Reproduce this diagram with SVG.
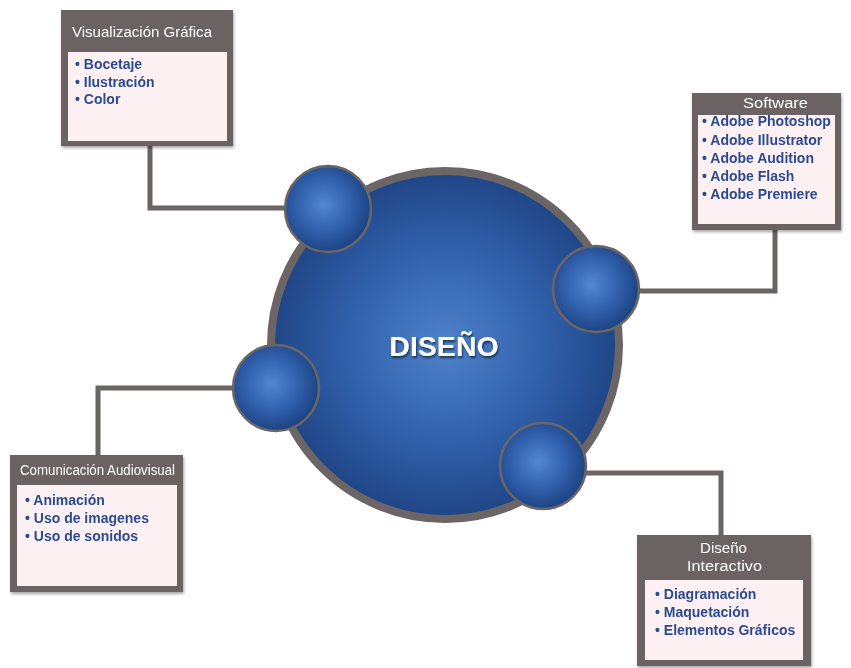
<svg xmlns="http://www.w3.org/2000/svg" width="851" height="668" viewBox="0 0 851 668">
<defs>
<radialGradient id="gMain" cx="50%" cy="50%" r="50%">
<stop offset="0" stop-color="#4f82cc"/>
<stop offset="0.6" stop-color="#2f5ea8"/>
<stop offset="1" stop-color="#1f4585"/>
</radialGradient>
<radialGradient id="gSmall" cx="45%" cy="45%" r="55%">
<stop offset="0" stop-color="#5486d2"/>
<stop offset="0.6" stop-color="#2f5eaa"/>
<stop offset="1" stop-color="#1d4482"/>
</radialGradient>
<filter id="sh" x="-10%" y="-10%" width="130%" height="130%">
<feGaussianBlur in="SourceAlpha" stdDeviation="1.5"/>
<feOffset dx="1" dy="1.5" result="b"/>
<feComponentTransfer><feFuncA type="linear" slope="0.35"/></feComponentTransfer>
<feMerge><feMergeNode/><feMergeNode in="SourceGraphic"/></feMerge>
</filter>
<filter id="tsh" x="-10%" y="-20%" width="130%" height="150%">
<feGaussianBlur in="SourceAlpha" stdDeviation="1"/>
<feOffset dx="1" dy="1.5" result="b"/>
<feComponentTransfer><feFuncA type="linear" slope="0.6"/></feComponentTransfer>
<feMerge><feMergeNode/><feMergeNode in="SourceGraphic"/></feMerge>
</filter>
</defs>
<style>
.frame{fill:#6a6263}
.inner{fill:#fdf0f2}
.title{fill:#ffffff;font-family:"Liberation Sans",Arial,sans-serif;font-size:14px}
.item{fill:#2c4b8f;font-family:"Liberation Sans",Arial,sans-serif;font-size:14px;font-weight:bold}
.conn{fill:none;stroke:#6b6465;stroke-width:5;stroke-linejoin:miter}
.small{fill:url(#gSmall);stroke:#6b6566;stroke-width:2.5}
</style>
<rect width="851" height="668" fill="#ffffff"/>
<g id="connectors">
<polyline class="conn" points="150,146 150,208 290,208"/>
<polyline class="conn" points="775,230 775,291 630,291"/>
<polyline class="conn" points="98,455 98,388 240,388"/>
<polyline class="conn" points="721,535 721,473 580,473"/>
</g>
<g id="diseno">
<circle cx="445" cy="345" r="174" fill="url(#gMain)" stroke="#6b6566" stroke-width="8"/>
<text x="444" y="356" text-anchor="middle" fill="#ffffff" font-family="'Liberation Sans',Arial,sans-serif" font-weight="bold" font-size="28.5" filter="url(#tsh)">DISEÑO</text>
</g>
<g id="circle-tl"><circle class="small" cx="328" cy="209" r="43"/></g>
<g id="circle-r"><circle class="small" cx="596" cy="289" r="43"/></g>
<g id="circle-l"><circle class="small" cx="276" cy="388" r="43"/></g>
<g id="circle-br"><circle class="small" cx="543" cy="466" r="43"/></g>
<g id="box-visualizacion" filter="url(#sh)">
<rect class="frame" x="61" y="10" width="172" height="136"/>
<rect class="inner" x="68" y="52" width="159" height="89"/>
<text class="title" x="72" y="37" textLength="140" lengthAdjust="spacingAndGlyphs">Visualización Gráfica</text>
<text class="item" x="75" y="69">• Bocetaje</text>
<text class="item" x="75" y="87">• Ilustración</text>
<text class="item" x="75" y="104">• Color</text>
</g>
<g id="box-software" filter="url(#sh)">
<rect class="frame" x="692" y="93" width="149" height="137"/>
<rect class="inner" x="698" y="115" width="137" height="109"/>
<text class="title" x="743" y="108" textLength="65" lengthAdjust="spacingAndGlyphs">Software</text>
<text class="item" x="702" y="126">• Adobe Photoshop</text>
<text class="item" x="702" y="145">• Adobe Illustrator</text>
<text class="item" x="702" y="163">• Adobe Audition</text>
<text class="item" x="702" y="181">• Adobe Flash</text>
<text class="item" x="702" y="199">• Adobe Premiere</text>
</g>
<g id="box-comunicacion" filter="url(#sh)">
<rect class="frame" x="10" y="455" width="173" height="137"/>
<rect class="inner" x="17" y="485" width="160" height="101"/>
<text class="title" x="20" y="475" textLength="155" lengthAdjust="spacingAndGlyphs" font-size="13">Comunicación Audiovisual</text>
<text class="item" x="25" y="505">• Animación</text>
<text class="item" x="25" y="523">• Uso de imagenes</text>
<text class="item" x="25" y="541">• Uso de sonidos</text>
</g>
<g id="box-interactivo" filter="url(#sh)">
<rect class="frame" x="637" y="535" width="174" height="131"/>
<rect class="inner" x="645" y="580" width="158" height="80"/>
<text class="title" x="700" y="553" textLength="47" lengthAdjust="spacingAndGlyphs">Diseño</text>
<text class="title" x="687" y="571" textLength="75" lengthAdjust="spacingAndGlyphs">Interactivo</text>
<text class="item" x="655" y="599">• Diagramación</text>
<text class="item" x="655" y="617">• Maquetación</text>
<text class="item" x="655" y="635">• Elementos Gráficos</text>
</g>
</svg>
